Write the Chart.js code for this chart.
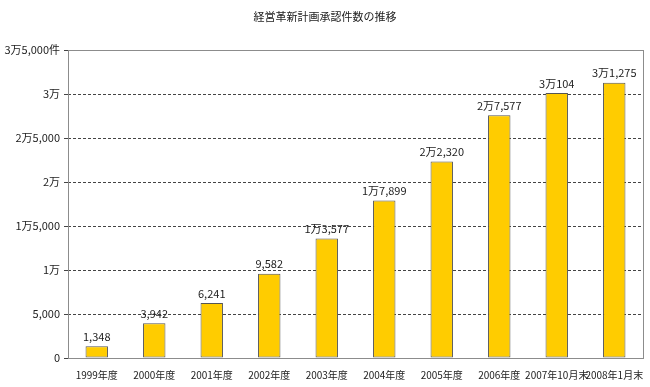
<!DOCTYPE html>
<html>
<head>
<meta charset="utf-8">
<script src="https://cdn.jsdelivr.net/npm/chart.js@4"></script>
<style>
  body { margin: 0; background: #fff; }
  canvas { display: block; }
</style>
</head>
<body>
<canvas id="chart" width="650" height="387"></canvas>
<script>
// データ
const categories = ['1999年度', '2000年度', '2001年度', '2002年度', '2003年度', '2004年度', '2005年度', '2006年度', '2007年10月末', '2008年1月末'];
const approvals = [1348, 3942, 6241, 9582, 13577, 17899, 22320, 27577, 30104, 31275];
const yTickLabels = ['0', '5,000', '1万', '1万5,000', '2万', '2万5,000', '3万', '3万5,000件'];
const chartTitle = '経営革新計画承認件数の推移';

const FONT = '"Noto Sans CJK JP", "Noto Sans", sans-serif';

// 1万3,577 形式に整形
function toMan(v) {
    const man = Math.floor(v / 10000);
    const rest = v % 10000;
    const restStr = rest.toLocaleString('en-US');
    if (man === 0) return restStr;
    return man + '万' + (rest ? restStr : '');
}

const extras = {
    id: 'extras',
    afterDraw(chart) {
        const { ctx, chartArea: a } = chart;
        ctx.save();
        // 枠線
        ctx.strokeStyle = '#8c8c8c';
        ctx.lineWidth = 1;
        ctx.strokeRect(a.left + 0.5, a.top + 0.5, a.right - a.left, a.bottom - a.top);
        // タイトル
        ctx.fillStyle = '#222';
        ctx.font = '11px ' + FONT;
        ctx.textAlign = 'center';
        ctx.textBaseline = 'middle';
        ctx.fillText(chartTitle, 325, 17);
        // 値ラベル
        const meta = chart.getDatasetMeta(0);
        ctx.font = '11px ' + FONT;
        ctx.textBaseline = 'bottom';
        meta.data.forEach((bar, i) => {
            ctx.fillText(toMan(approvals[i]), bar.x, bar.y - 4);
        });
        ctx.restore();
    }
};

new Chart(document.getElementById('chart'), {
    type: 'bar',
    data: {
        labels: categories,
        datasets: [{
            data: approvals,
            backgroundColor: '#FFCC00',
            borderColor: '#555555',
            borderWidth: 1,
            borderSkipped: false,
            categoryPercentage: 1,
            barPercentage: 0.39
        }]
    },
    options: {
        responsive: false,
        animation: false,
        layout: { padding: { top: 50, right: 7, left: 0, bottom: 0 } },
        plugins: {
            legend: { display: false },
            title: { display: false },
            tooltip: { enabled: false }
        },
        scales: {
            x: {
                grid: { display: false },
                border: { display: false },
                ticks: {
                    color: '#222',
                    font: { family: FONT, size: 10 },
                    maxRotation: 0,
                    autoSkip: false,
                    padding: 3
                },
                afterFit(s) { s.height = 29; }
            },
            y: {
                min: 0,
                max: 35000,
                border: { display: false, dash: [3, 2] },
                grid: {
                    color: c => (c.tick.value === 0 || c.tick.value === 35000) ? 'rgba(0,0,0,0)' : '#444',
                    tickLength: 4,
                    tickColor: '#444'
                },
                ticks: {
                    stepSize: 5000,
                    color: '#222',
                    font: { family: FONT, size: 11 },
                    padding: 4,
                    callback: (v, i) => yTickLabels[i]
                },
                afterFit(s) { s.width = 68; }
            }
        }
    },
    plugins: [extras]
});
</script>
</body>
</html>
